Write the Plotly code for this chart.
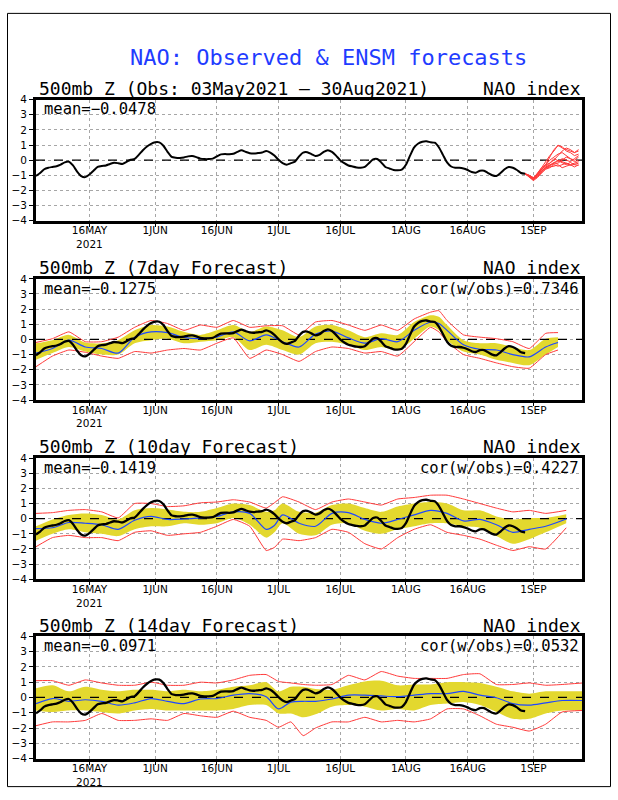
import pandas as pd
import plotly.graph_objects as go

# ---------------- data ----------------
start_date = "2021-05-03"
x_range = ["2021-05-03", "2021-09-12 20:00"]
tick_dates = ["2021-05-16", "2021-06-01", "2021-06-16", "2021-07-01",
              "2021-07-16", "2021-08-01", "2021-08-16", "2021-09-01"]
tick_labels = ["16MAY<br>2021", "1JUN", "16JUN", "1JUL", "16JUL", "1AUG", "16AUG", "1SEP"]

# observed NAO index, daily 03May2021 .. 30Aug2021
obs = [-1.04, -0.85, -0.6, -0.5, -0.45, -0.4, -0.3, -0.15, -0.1, -0.35,
       -0.75, -1.05, -1.12, -0.95, -0.7, -0.45, -0.38, -0.35, -0.25, -0.17,
       -0.2, -0.25, -0.12, 0.03, 0.08, 0.35, 0.65, 0.9, 1.08, 1.18,
       1.17, 0.95, 0.55, 0.22, 0.16, 0.15, 0.18, 0.25, 0.27, 0.2,
       0.1, 0.07, 0.07, 0.1, 0.25, 0.38, 0.4, 0.39, 0.42, 0.55,
       0.65, 0.55, 0.46, 0.44, 0.47, 0.5, 0.6, 0.5, 0.3, 0.02,
       -0.2, -0.3, -0.2, -0.1, 0.25, 0.5, 0.52, 0.4, 0.27, 0.35,
       0.55, 0.66, 0.55, 0.3, 0.0, -0.2, -0.35, -0.42, -0.48, -0.5,
       -0.45, -0.2, 0.05, 0.08, -0.15, -0.45, -0.55, -0.65, -0.67, -0.62,
       -0.3, 0.3, 0.85, 1.1, 1.22, 1.25, 1.18, 1.15, 0.85, 0.35,
       -0.15, -0.42, -0.5, -0.5, -0.55, -0.65, -0.78, -0.83, -0.7, -0.7,
       -0.85, -1.0, -1.05, -0.85, -0.6, -0.45, -0.5, -0.65, -0.85, -0.9]

# ensemble forecasts from 30Aug2021 (daily)
ens_start = "2021-08-30"
ens_members = [
    [-0.9, -1.1, -1.3, -1.0, -0.6, -0.3, 0.2, 0.7, 0.95, 0.9, 0.6, 0.5, 0.3, 0.4],
    [-0.9, -1.05, -1.2, -0.9, -0.5, -0.1, 0.3, 0.6, 1.0, 0.8, 0.7, 0.6, 0.5, 0.6],
    [-0.9, -1.0, -1.15, -0.95, -0.7, -0.5, -0.4, -0.2, 0.0, -0.1, -0.2, -0.3, -0.2, -0.1],
    [-0.9, -1.1, -1.25, -1.05, -0.8, -0.6, -0.5, -0.3, -0.4, -0.3, -0.2, -0.35, -0.3, -0.2],
    [-0.9, -1.05, -1.3, -1.1, -0.75, -0.45, -0.3, -0.25, -0.2, 0.0, 0.2, 0.1, -0.1, 0.0],
    [-0.9, -1.0, -1.2, -0.85, -0.5, -0.3, 0.0, 0.2, 0.4, 0.5, 0.3, 0.1, 0.0, 0.2],
    [-0.9, -1.1, -1.35, -1.15, -0.85, -0.55, -0.45, -0.4, -0.3, -0.5, -0.4, -0.3, -0.45, -0.3],
    [-0.9, -1.05, -1.15, -0.9, -0.65, -0.3, -0.2, 0.0, 0.3, 0.6, 0.8, 0.7, 0.5, 0.7],
    [-0.9, -1.0, -1.2, -1.0, -0.7, -0.5, -0.35, -0.15, -0.1, 0.1, 0.0, -0.1, 0.1, 0.3],
    [-0.9, -1.1, -1.25, -0.95, -0.6, -0.4, -0.2, 0.1, -0.05, -0.2, -0.3, -0.15, -0.3, -0.35],
]

# 7-day forecasts (day offsets from 03May2021)
days7 = [0, 4, 8, 12, 16, 20, 24, 28, 32, 36, 40, 44, 48, 52, 56, 60, 64,
         68, 72, 76, 80, 84, 88, 92, 96, 98, 100, 104, 108, 112, 116, 120, 124, 127]
band7_hi = [-0.26, -0.05, 0.3, -0.2, -0.25, -0.05, 0.6, 0.95, 0.85, 0.5, 0.3, 0.6, 0.95, 0.5, 0.85, 0.6, 0.15,
            0.85, 0.95, 0.6, 0.15, 0.4, 0.3, 1.15, 1.6, 1.5, 0.95, -0.05, -0.25, -0.25, -0.5, -0.7, 0.05, 0.15]
band7_lo = [-1.35, -0.9, -0.5, -0.8, -1.0, -1.0, -0.25, -0.05, 0.05, -0.25, -0.15, -0.05, 0.15, -0.7, -0.35, -0.7, -1.0,
            -0.25, -0.15, -0.35, -0.7, -0.5, -0.7, 0.05, 0.85, 0.6, -0.05, -0.8, -1.0, -1.35, -1.55, -1.7, -1.0, -0.5]
mean7 = [-0.9, -0.6, -0.05, -0.5, -0.6, -0.9, 0.15, 0.5, 0.45, 0.13, 0.05, 0.15, 0.5, -0.1, 0.3, -0.15, -0.5,
         0.35, 0.55, 0.1, -0.25, 0.05, -0.15, 0.6, 1.15, 1.05, 0.6, -0.35, -0.65, -0.7, -1.0, -1.15, -0.5, -0.2]
red7_hi = [-0.2, 0.05, 0.5, -0.15, -0.15, 0.15, 0.8, 1.25, 1.05, 0.6, 0.95, 0.8, 1.25, 0.8, 0.9, 0.9, 0.3,
           1.15, 1.25, 0.95, 0.6, 0.95, 0.6, 1.35, 1.8, 1.9, 1.25, 0.3, 0.15, 0.05, -0.15, -0.6, 0.4, 0.45]
red7_lo = [-1.8, -1.1, -0.7, -0.85, -1.1, -1.25, -0.8, -0.9, -0.7, -0.6, -0.7, -0.25, 0.1, -1.25, -0.7, -1.0, -1.45,
           -0.8, -0.5, -0.6, -0.9, -0.8, -1.1, -0.15, 0.8, 0.5, -0.15, -1.0, -1.25, -1.55, -1.8, -1.9, -1.0, -0.7]

# 10-day forecasts
days10 = [0, 4, 8, 12, 16, 20, 24, 28, 32, 36, 40, 44, 48, 52, 56, 58, 60,
          64, 68, 72, 76, 80, 84, 88, 92, 96, 100, 104, 108, 112, 116, 120, 124, 129]
band10_hi = [-0.5, -0.05, 0.25, 0.35, 0.25, -0.05, 0.55, 0.7, 0.6, 0.45, 0.45, 0.7, 1.0, 0.9, 0.45, 0.55, 1.0,
             0.45, 0.4, 0.9, 1.0, 0.7, 0.45, 0.8, 1.0, 1.1, 1.0, 0.55, 0.55, 0.15, -0.05, 0.05, 0.05, 0.3]
band10_lo = [-1.45, -1.0, -0.7, -0.9, -1.0, -1.15, -0.7, -0.5, -0.5, -0.3, -0.4, -0.3, 0.05, -0.4, -1.25, -0.9, -0.3,
             -1.0, -1.1, -0.4, -0.3, -0.8, -1.0, -0.7, -0.5, -0.3, -0.3, -0.5, -0.6, -1.15, -1.65, -1.35, -0.9, -0.3]
mean10 = [-0.65, -0.6, -0.25, -0.3, -0.4, -0.7, -0.1, 0.15, -0.05, -0.02, 0.05, 0.15, 0.45, 0.35, -0.7, -0.45, 0.25,
          -0.3, -0.5, 0.35, 0.4, -0.05, -0.3, -0.05, 0.25, 0.55, 0.35, -0.15, -0.05, -0.4, -0.9, -0.7, -0.5, -0.02]
red10_hi = [0.35, 0.4, 0.55, 0.6, 0.45, 0.05, 1.0, 1.0, 0.8, 0.85, 1.05, 1.1, 1.25, 1.1, 0.7, 1.05, 1.45,
            1.1, 0.6, 1.1, 1.3, 1.1, 0.9, 1.3, 1.4, 1.55, 1.55, 1.3, 1.0, 0.7, 0.45, 0.55, 0.35, 0.55]
red10_lo = [-1.85, -1.25, -1.1, -1.25, -1.25, -1.45, -0.9, -0.8, -1.1, -1.0, -0.9, -0.5, -0.05, -0.5, -2.1, -1.9, -1.35,
            -1.45, -1.25, -0.7, -0.9, -1.65, -2.0, -1.25, -0.7, -0.4, -0.9, -1.1, -1.35, -1.75, -2.1, -1.85, -2.0, -0.6]

# 14-day forecasts
days14 = [0, 4, 8, 12, 16, 20, 24, 28, 32, 36, 40, 44, 48, 52, 56, 59, 62, 65,
          68, 72, 76, 80, 84, 88, 92, 96, 100, 104, 108, 112, 116, 120, 124, 128, 133]
band14_hi = [0.6, 0.8, 0.4, 0.7, 0.5, 0.4, 0.5, 0.5, 0.4, 0.5, 0.4, 0.5, 0.7, 0.8, 1.0, 0.4, 0.7, 0.7,
             0.55, 0.5, 0.8, 1.05, 1.1, 0.8, 0.85, 0.85, 1.0, 1.0, 0.95, 0.7, 0.4, 0.25, 0.4, 0.4, 0.4]
band14_lo = [-0.85, -0.95, -0.85, -0.85, -0.95, -1.05, -0.85, -0.75, -0.85, -0.85, -0.85, -0.85, -0.75, -0.5, -0.5, -1.05, -1.05, -1.3,
             -1.1, -0.6, -0.5, -0.6, -0.85, -0.75, -0.85, -0.5, -0.4, -0.3, -0.5, -0.95, -1.4, -1.4, -1.05, -0.85, -0.85]
mean14 = [-0.4, -0.07, -0.25, -0.15, -0.25, -0.5, -0.35, -0.07, -0.25, -0.4, -0.1, -0.07, 0.15, 0.25, 0.05, -0.75, -0.3, -0.25,
          -0.25, -0.1, 0.15, 0.15, 0.1, 0.05, 0.15, 0.25, 0.25, 0.4, 0.15, -0.02, -0.4, -0.5, -0.35, -0.2, -0.2]
red14_hi = [1.1, 1.1, 0.8, 1.15, 0.95, 0.8, 0.8, 1.0, 0.8, 0.8, 1.0, 0.95, 1.15, 1.45, 1.5, 1.05, 0.95, 0.85,
            0.8, 0.85, 1.45, 1.15, 1.7, 1.4, 1.25, 1.25, 1.25, 1.5, 1.55, 0.85, 0.85, 0.95, 0.8, 0.85, 0.95]
red14_lo = [-1.85, -1.6, -1.6, -1.5, -1.05, -1.5, -1.5, -1.4, -1.5, -1.05, -1.2, -1.3, -0.9, -1.3, -1.5, -1.95, -1.6, -2.5,
            -2.0, -1.6, -1.6, -1.3, -1.6, -1.5, -1.6, -1.4, -0.75, -0.75, -1.2, -1.75, -1.95, -2.2, -1.75, -0.95, -0.85]

panel_titles = ["500mb Z (Obs: 03May2021 \u2013 30Aug2021)", "500mb Z (7day Forecast)",
                "500mb Z (10day Forecast)", "500mb Z (14day Forecast)"]
mean_texts = ["mean=\u22120.0478", "mean=\u22120.1275", "mean=\u22120.1419", "mean=\u22120.0971"]
cor_texts = [None, "cor(w/obs)=0.7346", "cor(w/obs)=0.4227", "cor(w/obs)=0.0532"]

# ---------------- styling / layout ----------------
W, H = 618, 800
FONT = "DejaVu Sans Mono"
TICKFONT = "DejaVu Sans"
YELLOW = "#e3d82e"
RED = "#ff3a3a"
BLUE = "#1f48ff"
panel_px = [(95, 218), (277, 400), (459, 582), (640, 764)]  # top, bottom
xl, xr = 36, 582

base = pd.Timestamp(start_date)
obs_x = pd.date_range(start_date, periods=len(obs), freq="D")


def off(days):
    return [base + pd.Timedelta(days=d) for d in days]


fig = go.Figure()


def add_zero(i):
    fig.add_trace(go.Scatter(x=x_range, y=[0, 0], mode="lines",
                             line=dict(color="black", width=1.3, dash="dash"),
                             xaxis=f"x{i}", yaxis=f"y{i}", hoverinfo="skip"))


def add_forecast(i, days, lo, hi, rlo, rhi, mean):
    xs = off(days)
    ax = dict(xaxis=f"x{i}", yaxis=f"y{i}")
    fig.add_trace(go.Scatter(x=xs, y=lo, mode="lines", line=dict(width=0, shape="spline", smoothing=0.8), **ax))
    fig.add_trace(go.Scatter(x=xs, y=hi, mode="lines", fill="tonexty", fillcolor=YELLOW,
                             line=dict(width=0, shape="spline", smoothing=0.8), **ax))
    add_zero(i)
    fig.add_trace(go.Scatter(x=xs, y=rlo, mode="lines", line=dict(color=RED, width=1, shape="spline", smoothing=0.4), **ax))
    fig.add_trace(go.Scatter(x=xs, y=rhi, mode="lines", line=dict(color=RED, width=1, shape="spline", smoothing=0.4), **ax))
    fig.add_trace(go.Scatter(x=xs, y=mean, mode="lines", line=dict(color=BLUE, width=1.2, shape="spline", smoothing=0.8), **ax))
    fig.add_trace(go.Scatter(x=obs_x, y=obs, mode="lines", line=dict(color="black", width=2.3, shape="spline", smoothing=0.6), **ax))


# panel 1
add_zero(1)
ens_x = pd.date_range(ens_start, periods=len(ens_members[0]), freq="D")
for m in ens_members:
    fig.add_trace(go.Scatter(x=ens_x, y=m, mode="lines", line=dict(color=RED, width=1),
                             xaxis="x1", yaxis="y1"))
fig.add_trace(go.Scatter(x=obs_x, y=obs, mode="lines",
                         line=dict(color="black", width=2, shape="spline", smoothing=0.6),
                         xaxis="x1", yaxis="y1"))

add_forecast(2, days7, band7_lo, band7_hi, red7_lo, red7_hi, mean7)
add_forecast(3, days10, band10_lo, band10_hi, red10_lo, red10_hi, mean10)
add_forecast(4, days14, band14_lo, band14_hi, red14_lo, red14_hi, mean14)

layout = dict(width=W, height=H, margin=dict(l=0, r=0, t=0, b=0), autosize=False,
              paper_bgcolor="white", plot_bgcolor="white", showlegend=False,
              font=dict(family=FONT, color="black"))
annotations = []
for k, (top, bot) in enumerate(panel_px):
    i = k + 1
    axis_common = dict(showgrid=True, gridcolor="#a6a6a6", griddash="dot", gridwidth=1,
                       showline=True, linecolor="black", linewidth=3, mirror=True,
                       ticks="outside", tickwidth=1, tickcolor="black",
                       tickfont=dict(family=TICKFONT, size=10.5, color="black"), zeroline=False)
    layout[f"xaxis{i}"] = dict(domain=[xl / W, xr / W], anchor=f"y{i}", type="date",
                               range=x_range, tickvals=tick_dates, ticktext=tick_labels,
                               ticklen=3, ticklabelstandoff=-5, **axis_common)
    layout[f"yaxis{i}"] = dict(domain=[1 - bot / H, 1 - top / H], anchor=f"x{i}",
                               range=[-4, 4], tickvals=[-4, -3, -2, -1, 0, 1, 2, 3, 4],
                               ticklen=4, **axis_common)
    annotations.append(dict(text=panel_titles[k], x=(xl + 1) / W, y=1 - (top - 11.5) / H,
                            xref="paper", yref="paper", xanchor="left", yanchor="middle",
                            showarrow=False, font=dict(size=18, family=FONT)))
    annotations.append(dict(text="NAO index", x=(xr + 1) / W, y=1 - (top - 11.5) / H,
                            xref="paper", yref="paper", xanchor="right", yanchor="middle",
                            showarrow=False, font=dict(size=18, family=FONT)))
    annotations.append(dict(text=mean_texts[k], x=(xl + 6) / W, y=1 - (top + 10) / H,
                            xref="paper", yref="paper", xanchor="left", yanchor="middle",
                            showarrow=False, font=dict(size=15.5, family=FONT)))
    if cor_texts[k]:
        annotations.append(dict(text=cor_texts[k], x=(xr - 1) / W, y=1 - (top + 10) / H,
                                xref="paper", yref="paper", xanchor="right", yanchor="middle",
                                showarrow=False, font=dict(size=15.5, family=FONT)))

annotations.append(dict(text="NAO: Observed & ENSM forecasts", x=329 / W, y=1 - 52.5 / H,
                        xref="paper", yref="paper", xanchor="center", yanchor="middle",
                        showarrow=False, font=dict(size=22, family=FONT, color="#1f3cff")))
layout["annotations"] = annotations
layout["shapes"] = [dict(type="rect", xref="paper", yref="paper",
                         x0=7.5 / W, x1=610.5 / W, y0=1 - 792.5 / H, y1=1 - 7.5 / H,
                         line=dict(color="black", width=1), fillcolor="rgba(0,0,0,0)")]
fig.update_layout(**layout)

fig.write_html("out.html")
